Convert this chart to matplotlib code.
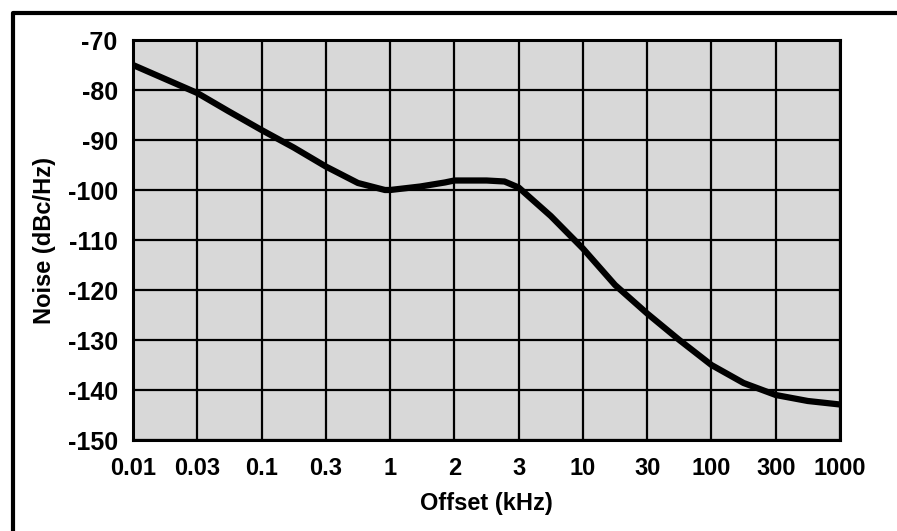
import numpy as np
import matplotlib
matplotlib.use('Agg')
import matplotlib.pyplot as plt
from matplotlib.lines import Line2D

# offset-tick labels (kHz), gleichmaessig verteilt
tick_labels = ['0.01', '0.03', '0.1', '0.3', '1', '2', '3', '10', '30', '100', '300', '1000']
y_ticks = [-70, -80, -90, -100, -110, -120, -130, -140, -150]

curve_pos = [0, 1, 1.48, 2, 2.5, 3, 3.5, 3.92, 4, 4.47, 4.85, 5, 5.5, 5.78,
             6, 6.5, 7, 7.5, 8, 8.5, 9, 9.5, 10, 10.5, 11]
curve_noise = [-75, -80.6, -84.2, -88, -91.5, -95.3, -98.6, -100, -100, -99.3, -98.5,
               -98.1, -98.1, -98.3, -99.5, -105.2, -111.7, -119, -124.7, -130,
               -135, -138.6, -141, -142.2, -142.9]

plt.rcParams['font.family'] = ['Liberation Sans', 'DejaVu Sans']
plt.rcParams['font.weight'] = 'bold'
plt.rcParams['axes.unicode_minus'] = False

fig = plt.figure(figsize=(8.97, 5.31), dpi=100)
ax = fig.add_axes([133/897, 1-440/531, (840-133)/897, (440-40)/531])
ax.set_facecolor('#d8d8d8')

ax.plot(curve_pos, curve_noise, color='black', linewidth=4.5,
        solid_joinstyle='round', solid_capstyle='butt', zorder=3)

ax.set_xlim(0, len(tick_labels)-1)
ax.set_ylim(-150, -70)
ax.set_xticks(range(len(tick_labels)))
ax.set_xticklabels(tick_labels)
ax.set_yticks(y_ticks)
ax.tick_params(length=0)
ax.tick_params(axis='y', labelsize=18, pad=11)
ax.tick_params(axis='x', labelsize=17, pad=12)
ax.grid(True, color='black', linewidth=1.6)
for s in ax.spines.values():
    s.set_linewidth(2.2)

ax.set_xlabel('Offset (kHz)', fontsize=17, fontweight='bold', labelpad=9)
ax.set_ylabel('Noise (dBc/Hz)', fontsize=17, fontweight='bold', labelpad=8)

# rahmen um die grafik (rechts und unten abgeschnitten)
x0, y0 = 12.5/897, 1-12.5/531
fig.add_artist(Line2D([x0, x0, 1.01], [-0.01, y0, y0], transform=fig.transFigure,
                      color='black', linewidth=3))

fig.savefig('out.png', dpi=100)
